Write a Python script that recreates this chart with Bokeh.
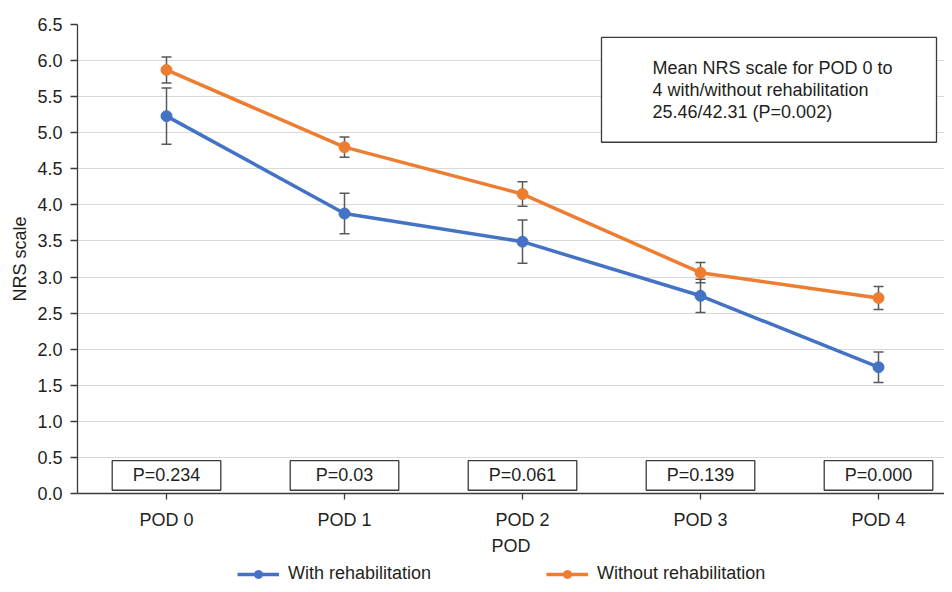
from bokeh.plotting import figure
from bokeh.layouts import column
from bokeh.models import (ColumnDataSource, Whisker, TeeHead, FixedTicker, SingleIntervalTicker,
                          NumeralTickFormatter, Legend, LegendItem, Range1d)
from bokeh.core.properties import value
from bokeh.embed import file_html
from bokeh.resources import INLINE

categories = ["POD 0", "POD 1", "POD 2", "POD 3", "POD 4"]
with_rehab = [5.23, 3.88, 3.49, 2.74, 1.75]
with_rehab_err = [0.39, 0.28, 0.30, 0.23, 0.21]
without_rehab = [5.87, 4.80, 4.15, 3.06, 2.71]
without_rehab_err = [0.18, 0.14, 0.17, 0.14, 0.16]
p_values = ["P=0.234", "P=0.03", "P=0.061", "P=0.139", "P=0.000"]
note_lines = ["Mean NRS scale for POD 0 to", "4 with/without rehabilitation", "25.46/42.31 (P=0.002)"]
series_names = ["With rehabilitation", "Without rehabilitation"]

FONT = "Liberation Sans"
FS = "18px"
TXT = "#231f20"
AX = "#3a3a3a"
BLUE = "#4472C4"
ORANGE = "#ED7D31"

W = 944
FRAME_L, FRAME_T, FRAME_B = 77, 24, 494
MAIN_H = 558
STEP = 178.0                     # px per category
YPX = (FRAME_B - FRAME_T) / 6.5  # px per unit

xs = list(range(len(categories)))

p = figure(width=W, height=MAIN_H, output_backend="svg", toolbar_location=None,
           x_range=Range1d(-0.5, -0.5 + (W - FRAME_L) / STEP), y_range=Range1d(0, 6.5),
           min_border_left=FRAME_L, min_border_top=FRAME_T,
           min_border_bottom=MAIN_H - FRAME_B, min_border_right=0)
p.outline_line_color = None

p.xgrid.grid_line_color = None
p.ygrid.grid_line_color = "#d9d9d9"
p.ygrid.grid_line_width = 1.2
p.ygrid.ticker = SingleIntervalTicker(interval=0.5)

p.yaxis.ticker = SingleIntervalTicker(interval=0.5)
p.yaxis.formatter = NumeralTickFormatter(format="0.0")
p.yaxis.minor_tick_line_color = None
p.yaxis.major_tick_in = 0
p.yaxis.major_tick_out = 7
p.yaxis.major_label_standoff = 8
p.yaxis.axis_label = "NRS scale"
p.yaxis.axis_label_standoff = 4

p.xaxis.ticker = FixedTicker(ticks=xs)
p.xaxis.major_label_overrides = {i: c for i, c in zip(xs, categories)}
p.xaxis.minor_tick_line_color = None
p.xaxis.major_tick_in = 0
p.xaxis.major_tick_out = 6
p.xaxis.major_label_standoff = 10
p.xaxis.axis_label = "POD"
p.xaxis.axis_label_standoff = 3

for ax in (p.xaxis, p.yaxis):
    ax.axis_line_color = AX
    ax.axis_line_width = 1.3
    ax.major_tick_line_color = AX
    ax.major_tick_line_width = 1.3
    ax.major_label_text_font = FONT
    ax.major_label_text_font_size = FS
    ax.major_label_text_color = TXT
    ax.axis_label_text_font = FONT
    ax.axis_label_text_font_size = FS
    ax.axis_label_text_font_style = "normal"
    ax.axis_label_text_color = TXT

# P-value boxes
pv_src = ColumnDataSource(dict(x=xs, y=[0.25] * len(xs), t=p_values))
p.rect(x="x", y="y", width=0.61, height=0.41, source=pv_src, fill_color="white",
       line_color=AX, line_width=1.3)
p.text(x="x", y="y", text="t", source=pv_src, text_align="center", text_baseline="middle",
       text_font=value(FONT), text_font_size=FS, text_color=TXT)

# error bars
src_w = ColumnDataSource(dict(x=xs, y=with_rehab,
                              lo=[v - e for v, e in zip(with_rehab, with_rehab_err)],
                              hi=[v + e for v, e in zip(with_rehab, with_rehab_err)]))
src_o = ColumnDataSource(dict(x=xs, y=without_rehab,
                              lo=[v - e for v, e in zip(without_rehab, without_rehab_err)],
                              hi=[v + e for v, e in zip(without_rehab, without_rehab_err)]))
for s in (src_w, src_o):
    w = Whisker(base="x", upper="hi", lower="lo", source=s, dimension="height",
                line_color="#595959", line_width=1.5, level="underlay",
                upper_head=TeeHead(size=10, line_color="#595959", line_width=1.5),
                lower_head=TeeHead(size=10, line_color="#595959", line_width=1.5))
    p.add_layout(w)

p.line("x", "y", source=src_w, line_color=BLUE, line_width=3.5)
p.scatter("x", "y", source=src_w, size=11, fill_color=BLUE, line_color=BLUE)
p.line("x", "y", source=src_o, line_color=ORANGE, line_width=3.5)
p.scatter("x", "y", source=src_o, size=11, fill_color=ORANGE, line_color=ORANGE)

# note box (placed in plot coordinates derived from pixel layout)
bx0 = (601 - FRAME_L) / STEP - 0.5
bx1 = (936 - FRAME_L) / STEP - 0.5
by1 = (FRAME_B - 37) / YPX
by0 = (FRAME_B - 142) / YPX
p.quad(left=[bx0], right=[bx1], bottom=[by0], top=[by1], fill_color="white",
       line_color=AX, line_width=1.3)
tx = (652 - FRAME_L) / STEP - 0.5
tys = [(FRAME_B - yy) / YPX for yy in (68, 90, 112)]
p.text(x=[tx] * 3, y=tys, text=note_lines, text_align="left", text_baseline="middle",
       text_font=value(FONT), text_font_size=FS, text_color=TXT)

# legend strip
LEG_H = 584 - MAIN_H
p2 = figure(width=W, height=LEG_H, output_backend="svg", toolbar_location=None,
            x_range=Range1d(0, 1), y_range=Range1d(0, 1),
            x_axis_location=None, y_axis_location=None,
            min_border_left=0, min_border_right=0, min_border_top=0, min_border_bottom=0)
p2.grid.visible = False
p2.outline_line_color = None
d1 = p2.line(x=[-5, -4], y=[-5, -5], line_color=BLUE, line_width=3.5)
d1s = p2.scatter(x=[-5], y=[-5], size=11, fill_color=BLUE, line_color=BLUE)
d2 = p2.line(x=[-5, -4], y=[-5, -5], line_color=ORANGE, line_width=3.5)
d2s = p2.scatter(x=[-5], y=[-5], size=11, fill_color=ORANGE, line_color=ORANGE)
legend = Legend(items=[LegendItem(label=series_names[0], renderers=[d1, d1s]),
                       LegendItem(label=series_names[1], renderers=[d2, d2s])],
                orientation="horizontal", location=(160, 0), margin=0, padding=0,
                spacing=115, glyph_width=42, glyph_height=20, label_standoff=9,
                label_text_font=FONT, label_text_font_size=FS, label_text_color=TXT,
                border_line_color=None, background_fill_alpha=0)
p2.add_layout(legend)

open("out.html", "w").write(file_html(column(p, p2, spacing=0), INLINE))
